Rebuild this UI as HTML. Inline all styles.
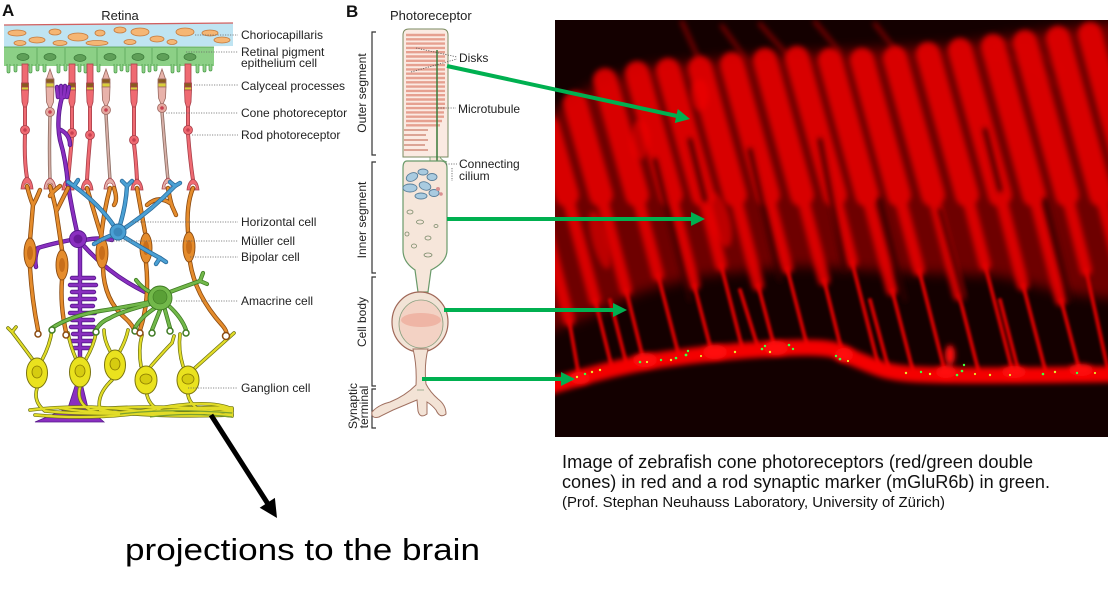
<!DOCTYPE html>
<html><head><meta charset="utf-8"><style>
html,body{margin:0;padding:0;background:#fff;}
svg{display:block;}
</style></head><body>
<svg width="1108" height="594" viewBox="0 0 1108 594" xmlns="http://www.w3.org/2000/svg" font-family="'Liberation Sans', Arial, sans-serif">
<defs>
  <clipPath id="pc"><rect x="555" y="20" width="553" height="417"/></clipPath>
  <filter id="b6" filterUnits="userSpaceOnUse" x="500" y="0" width="700" height="480"><feGaussianBlur stdDeviation="6"/></filter>
  <filter id="b3" filterUnits="userSpaceOnUse" x="500" y="0" width="700" height="480"><feGaussianBlur stdDeviation="2.6"/></filter>
  <filter id="b1" filterUnits="userSpaceOnUse" x="500" y="0" width="700" height="480"><feGaussianBlur stdDeviation="1.2"/></filter>

  <g id="orP">
    <path d="M27,186 Q30,198 33,205 L30,240"/>
    <path d="M40,190 Q36,200 33,205"/>
    <path d="M30,268 Q32,300 38,330"/>
    <path d="M50,186 Q54,200 56,210 L62,250"/>
    <path d="M68,188 Q62,200 57,210"/>
    <path d="M62,280 Q60,305 66,332"/>
    <path d="M87,188 Q92,205 98,225 L102,238"/>
    <path d="M110,188 Q104,210 101,238"/>
    <path d="M103,268 Q104,300 125,318 Q133,325 135,332"/>
    <path d="M137,188 Q140,205 145,232"/>
    <path d="M147,205 Q158,195 170,203"/>
    <path d="M168,188 Q170,200 172,206 L176,215"/>
    <path d="M146,263 Q150,300 140,330"/>
    <path d="M193,188 Q186,205 188,232"/>
    <path d="M190,262 Q195,295 222,325 Q228,332 226,336"/>
    <path d="M114,188 Q118,200 114,205"/>
    <path d="M60,186 Q52,192 50,196"/>
  </g>
  <g id="blP">
    <path d="M114,226 Q100,205 74,186"/>
    <path d="M74,186 L68,182 M74,186 L78,180"/>
    <path d="M120,225 Q126,205 127,186"/>
    <path d="M127,186 L122,181 M127,186 L132,181"/>
    <path d="M125,228 Q152,210 175,186"/>
    <path d="M175,186 L170,182 M175,186 L180,183"/>
    <path d="M124,237 Q145,250 160,258"/>
    <path d="M160,258 L156,264 M160,258 L166,262"/>
    <path d="M112,235 Q100,240 94,244"/>
  </g>
  <g id="puP">
    <path d="M57,87 L58,97 M61,86 L61,97 M65,86 L64,97 M69,87 L67,97"/>
    <path d="M62,97 Q56,120 60,140 Q66,160 68,185 Q72,210 77,232"/>
    <path d="M61,130 Q70,135 70,145"/>
    <path d="M71,240 Q50,244 38,248 Q34,258 36,267"/>
    <path d="M85,240 Q100,237 112,240"/>
    <path d="M84,246 Q110,275 145,292"/>
    <path d="M80,246 L80,385"/>
    <path d="M72,278 L94,278 M70,285 L96,285 M72,292 L94,292 M70,299 L95,299 M72,306 L93,306 M70,313 L95,313 M72,320 L93,320 M71,327 L94,327 M73,334 L92,334 M72,341 L92,341 M74,348 L90,348"/>
  </g>
  <g id="grP">
    <path d="M170,292 Q186,286 200,281"/>
    <path d="M200,281 L203,273 M200,281 L207,284"/>
    <path d="M150,292 Q142,288 136,280"/>
    <path d="M150,302 Q120,308 100,311 Q70,316 52,328"/>
    <path d="M150,304 Q120,312 110,318 Q100,322 96,330"/>
    <path d="M155,308 Q140,318 135,328"/>
    <path d="M160,310 L152,330"/>
    <path d="M165,310 L170,328"/>
    <path d="M169,306 Q182,318 186,330"/>
  </g>
  <g id="yeP">
    <path d="M33,360 Q22,345 12,332 M12,332 L8,328 M12,332 L16,327"/>
    <path d="M42,360 Q50,345 52,330"/>
    <path d="M76,359 Q70,345 68,333"/>
    <path d="M86,359 Q94,345 96,333"/>
    <path d="M110,351 Q104,340 104,330"/>
    <path d="M120,351 Q126,340 128,330"/>
    <path d="M141,366 Q138,350 142,335"/>
    <path d="M151,366 Q165,350 172,343 L174,336"/>
    <path d="M183,366 Q178,350 180,334"/>
    <path d="M195,368 Q215,350 234,333"/>
    <path d="M37,388 Q33,402 45,411 Q90,416 232,412"/>
    <path d="M80,387 Q76,402 90,410 Q140,404 232,410"/>
    <path d="M112,380 Q96,395 100,410 Q150,418 232,415"/>
    <path d="M147,395 Q150,408 165,412 Q200,406 232,408"/>
    <path d="M188,395 Q190,406 205,413 L232,416"/>
    <path d="M30,410 Q80,404 130,410 T232,411"/>
    <path d="M35,415 Q90,420 140,413 T232,414"/>
    <path d="M60,408 Q110,417 160,408 T232,409"/>
  </g>
</defs>

<!-- ================= PANEL A ================= -->
<text x="2" y="16" font-size="17" font-weight="bold" fill="#111">A</text>
<text x="120" y="20" font-size="13" text-anchor="middle" fill="#222">Retina</text>
<polygon points="4,25.5 233,23.5 233,46 4,48" fill="#bfe4f2"/>
<line x1="4" y1="25" x2="233" y2="23" stroke="#d06060" stroke-width="1.3"/>
<g fill="#f5b674" stroke="#c57a3c" stroke-width="0.8">
  <ellipse cx="17" cy="33" rx="9" ry="3"/><ellipse cx="37" cy="40" rx="8" ry="3"/>
  <ellipse cx="55" cy="32" rx="6" ry="3"/><ellipse cx="78" cy="37" rx="10" ry="4"/>
  <ellipse cx="100" cy="33" rx="5" ry="3"/><ellipse cx="120" cy="30" rx="6" ry="3"/>
  <ellipse cx="140" cy="32" rx="9" ry="4"/><ellipse cx="157" cy="39" rx="7" ry="3"/>
  <ellipse cx="185" cy="32" rx="9" ry="4"/><ellipse cx="210" cy="33" rx="8" ry="3"/>
  <ellipse cx="222" cy="40" rx="8" ry="3"/><ellipse cx="97" cy="43" rx="11" ry="2.5"/>
  <ellipse cx="130" cy="42" rx="6" ry="2.5"/><ellipse cx="60" cy="43" rx="7" ry="2.5"/>
  <ellipse cx="172" cy="42" rx="5" ry="2.5"/><ellipse cx="20" cy="43" rx="6" ry="2.5"/>
</g>
<rect x="4" y="47" width="210" height="19" fill="#8cd086"/>
<g fill="#8cd086" stroke="#4a9a48" stroke-width="0.7">
  <rect x="7" y="63" width="3" height="10" rx="1.5"/><rect x="14" y="63" width="3" height="9" rx="1.5"/>
  <rect x="29" y="63" width="3" height="10" rx="1.5"/><rect x="36" y="63" width="3" height="8" rx="1.5"/>
  <rect x="43" y="63" width="3" height="9" rx="1.5"/><rect x="57" y="63" width="3" height="10" rx="1.5"/>
  <rect x="64" y="63" width="3" height="8" rx="1.5"/><rect x="78" y="63" width="3" height="9" rx="1.5"/>
  <rect x="84" y="63" width="3" height="10" rx="1.5"/><rect x="97" y="63" width="3" height="9" rx="1.5"/>
  <rect x="114" y="63" width="3" height="10" rx="1.5"/><rect x="120" y="63" width="3" height="8" rx="1.5"/>
  <rect x="126" y="63" width="3" height="9" rx="1.5"/><rect x="142" y="63" width="3" height="10" rx="1.5"/>
  <rect x="148" y="63" width="3" height="9" rx="1.5"/><rect x="154" y="63" width="3" height="8" rx="1.5"/>
  <rect x="171" y="63" width="3" height="10" rx="1.5"/><rect x="177" y="63" width="3" height="9" rx="1.5"/>
  <rect x="196" y="63" width="3" height="10" rx="1.5"/><rect x="203" y="63" width="3" height="9" rx="1.5"/>
  <rect x="209" y="63" width="3" height="8" rx="1.5"/>
</g>
<rect x="4" y="47" width="210" height="17" fill="#8cd086"/>
<line x1="4" y1="47" x2="214" y2="47" stroke="#4a9a48" stroke-width="0.8"/>
<g stroke="#5aa55a" stroke-width="0.8">
  <line x1="37" y1="48" x2="37" y2="64"/><line x1="65" y1="48" x2="65" y2="64"/>
  <line x1="97" y1="48" x2="97" y2="64"/><line x1="125" y1="48" x2="125" y2="64"/>
  <line x1="152" y1="48" x2="152" y2="64"/><line x1="177" y1="48" x2="177" y2="64"/>
</g>
<g fill="#5f9f58" stroke="#3a7a38" stroke-width="0.7">
  <ellipse cx="23" cy="57" rx="6" ry="3.5"/><ellipse cx="50" cy="57" rx="6" ry="3.5"/>
  <ellipse cx="80" cy="58" rx="6" ry="3.5"/><ellipse cx="110" cy="57" rx="6" ry="3.5"/>
  <ellipse cx="138" cy="57" rx="6" ry="3.5"/><ellipse cx="163" cy="57" rx="6" ry="3.5"/>
  <ellipse cx="190" cy="57" rx="6" ry="3.5"/>
</g>

<g fill="none" stroke-linecap="round">
  <g stroke="#a8404a" stroke-width="4">
    <path d="M25,106 L25,127 M25,134 Q24,160 27,178"/>
    <path d="M72,106 L72,130 M72,137 Q70,160 68,180"/>
    <path d="M90,106 L90,131 M90,139 Q88,160 87,180"/>
    <path d="M134,106 L134,136 M134,144 Q136,160 137,180"/>
    <path d="M188,106 L188,126 M188,134 Q190,160 193,180"/>
  </g>
  <g stroke="#ef6a72" stroke-width="2.4">
    <path d="M25,106 L25,127 M25,134 Q24,160 27,178"/>
    <path d="M72,106 L72,130 M72,137 Q70,160 68,180"/>
    <path d="M90,106 L90,131 M90,139 Q88,160 87,180"/>
    <path d="M134,106 L134,136 M134,144 Q136,160 137,180"/>
    <path d="M188,106 L188,126 M188,134 Q190,160 193,180"/>
  </g>
  <g stroke="#8a6a60" stroke-width="3.4">
    <path d="M50,116 Q49,150 50,180"/>
    <path d="M106,114 Q108,150 110,180"/>
    <path d="M162,112 Q165,150 168,180"/>
  </g>
  <g stroke="#d8b0a8" stroke-width="1.8">
    <path d="M50,116 Q49,150 50,180"/>
    <path d="M106,114 Q108,150 110,180"/>
    <path d="M162,112 Q165,150 168,180"/>
  </g>
</g>
<g stroke="#a8404a" stroke-width="0.8">
  <rect x="22" y="64" width="6" height="19" fill="#ef6a72"/><rect x="21.5" y="83" width="7" height="4" fill="#8a5a20"/><rect x="21.5" y="87" width="7" height="3" fill="#d8cf3a"/><path d="M21.5,90 L28.5,90 L28,102 L26.5,107 L23.5,107 L22,102 Z" fill="#ef6a72"/>
  <rect x="69" y="64" width="6" height="19" fill="#ef6a72"/><rect x="68.5" y="83" width="7" height="4" fill="#8a5a20"/><rect x="68.5" y="87" width="7" height="3" fill="#d8cf3a"/><path d="M68.5,90 L75.5,90 L75,102 L73.5,107 L70.5,107 L69,102 Z" fill="#ef6a72"/>
  <rect x="87" y="64" width="6" height="19" fill="#ef6a72"/><rect x="86.5" y="83" width="7" height="4" fill="#8a5a20"/><rect x="86.5" y="87" width="7" height="3" fill="#d8cf3a"/><path d="M86.5,90 L93.5,90 L93,102 L91.5,107 L88.5,107 L87,102 Z" fill="#ef6a72"/>
  <rect x="131" y="64" width="6" height="19" fill="#ef6a72"/><rect x="130.5" y="83" width="7" height="4" fill="#8a5a20"/><rect x="130.5" y="87" width="7" height="3" fill="#d8cf3a"/><path d="M130.5,90 L137.5,90 L137,102 L135.5,107 L132.5,107 L131,102 Z" fill="#ef6a72"/>
  <rect x="185" y="64" width="6" height="19" fill="#ef6a72"/><rect x="184.5" y="83" width="7" height="4" fill="#8a5a20"/><rect x="184.5" y="87" width="7" height="3" fill="#d8cf3a"/><path d="M184.5,90 L191.5,90 L191,102 L189.5,107 L186.5,107 L185,102 Z" fill="#ef6a72"/>
</g>
<g stroke="#9a6a62" stroke-width="0.8">
  <path d="M50,69 L53.5,79 L46.5,79 Z" fill="#e8b2aa"/><rect x="46" y="79" width="8" height="4" fill="#8a5a20"/><rect x="46" y="83" width="8" height="4" fill="#d8cf3a"/><path d="M46,87 L54,87 L53.5,102 L51,108 L49,108 L46.5,102 Z" fill="#e8b2aa"/>
  <path d="M106,69 L109.5,79 L102.5,79 Z" fill="#e8b2aa"/><rect x="102" y="79" width="8" height="4" fill="#8a5a20"/><rect x="102" y="83" width="8" height="4" fill="#d8cf3a"/><path d="M102,87 L110,87 L109.5,100 L107,106 L105,106 L102.5,100 Z" fill="#e8b2aa"/>
  <path d="M162,69 L165.5,79 L158.5,79 Z" fill="#e8b2aa"/><rect x="158" y="79" width="8" height="4" fill="#8a5a20"/><rect x="158" y="83" width="8" height="4" fill="#d8cf3a"/><path d="M158,87 L166,87 L165.5,98 L163,104 L161,104 L158.5,98 Z" fill="#e8b2aa"/>
</g>
<g fill="#ef6a72" stroke="#a8404a" stroke-width="0.8">
  <circle cx="25" cy="130" r="4.5"/><circle cx="72" cy="133" r="4.5"/><circle cx="90" cy="135" r="4.5"/><circle cx="134" cy="140" r="4.5"/><circle cx="188" cy="130" r="4.5"/>
</g>
<g fill="#e4a8a0" stroke="#a06a62" stroke-width="0.8">
  <circle cx="50" cy="112" r="4.5"/><circle cx="106" cy="110" r="4.5"/><circle cx="162" cy="108" r="4.5"/>
</g>
<g fill="#c84050"><circle cx="25" cy="130" r="1.8"/><circle cx="72" cy="133" r="1.8"/><circle cx="90" cy="135" r="1.8"/><circle cx="134" cy="140" r="1.8"/><circle cx="188" cy="130" r="1.8"/><circle cx="50" cy="112" r="1.8"/><circle cx="106" cy="110" r="1.8"/><circle cx="162" cy="108" r="1.8"/></g>
<g stroke="#a8404a" stroke-width="0.8">
  <path d="M21,189 Q22,179 27,177 Q32,179 33,189 Z" fill="#ef6a72"/>
  <path d="M44,189 Q45,180 50,178 Q55,180 56,189 Z" fill="#e4b0a8"/>
  <path d="M62,190 Q63,181 68,179 Q73,181 74,190 Z" fill="#ef6a72"/>
  <path d="M81,190 Q82,181 87,179 Q92,181 93,190 Z" fill="#ef6a72"/>
  <path d="M104,189 Q105,180 110,178 Q115,180 116,189 Z" fill="#e4b0a8"/>
  <path d="M131,190 Q132,181 137,179 Q142,181 143,190 Z" fill="#ef6a72"/>
  <path d="M162,189 Q163,180 168,178 Q173,180 174,189 Z" fill="#e4b0a8"/>
  <path d="M187,190 Q188,181 193,179 Q198,181 199,190 Z" fill="#ef6a72"/>
</g>
<g fill="#fff" stroke="#a8404a" stroke-width="0.6">
  <circle cx="27" cy="186" r="3"/><circle cx="50" cy="186" r="3"/><circle cx="68" cy="187" r="3"/><circle cx="87" cy="187" r="3"/><circle cx="110" cy="186" r="3"/><circle cx="137" cy="187" r="3"/><circle cx="168" cy="186" r="3"/><circle cx="193" cy="187" r="3"/>
</g>

<polygon points="35,422 104,422 88,408 82,383 76,383 68,408" fill="#8a2fc0" stroke="#55188a" stroke-width="0.8"/>
<use href="#puP" fill="none" stroke="#55188a" stroke-width="4.4" stroke-linecap="round"/>
<use href="#puP" fill="none" stroke="#8a2fc0" stroke-width="2.8" stroke-linecap="round"/>
<circle cx="78" cy="239" r="8.5" fill="#8a2fc0" stroke="#55188a" stroke-width="0.9"/>
<circle cx="78" cy="239" r="4.5" fill="#6a1a9a"/>

<use href="#yeP" fill="none" stroke="#6a7010" stroke-width="3.6" stroke-linecap="round"/>
<use href="#yeP" fill="none" stroke="#e2dc28" stroke-width="2.2" stroke-linecap="round"/>
<g fill="none" stroke="#7aa030" stroke-width="1.2">
  <path d="M120,414 Q170,408 232,413"/><path d="M150,417 Q190,412 232,417"/>
</g>

<use href="#orP" fill="none" stroke="#8a4a10" stroke-width="4.4" stroke-linecap="round"/>
<use href="#orP" fill="none" stroke="#e58c2c" stroke-width="2.8" stroke-linecap="round"/>
<g fill="#e58c2c" stroke="#8a4a10" stroke-width="0.9">
  <ellipse cx="30" cy="253" rx="6" ry="15"/><ellipse cx="62" cy="265" rx="6" ry="15"/>
  <ellipse cx="102" cy="253" rx="6" ry="15"/><ellipse cx="146" cy="248" rx="6" ry="15"/>
  <ellipse cx="189" cy="247" rx="6" ry="15"/>
</g>
<g fill="#c86e1a"><ellipse cx="30" cy="253" rx="3" ry="7"/><ellipse cx="62" cy="265" rx="3" ry="7"/><ellipse cx="102" cy="253" rx="3" ry="7"/><ellipse cx="146" cy="248" rx="3" ry="7"/><ellipse cx="189" cy="247" rx="3" ry="7"/></g>

<use href="#blP" fill="none" stroke="#2a6a9a" stroke-width="4.4" stroke-linecap="round"/>
<use href="#blP" fill="none" stroke="#4aa0d4" stroke-width="2.8" stroke-linecap="round"/>
<circle cx="118" cy="232" r="8" fill="#4aa0d4" stroke="#2a6a9a" stroke-width="0.9"/>
<circle cx="118" cy="232" r="4.5" fill="#3a88bc"/>

<use href="#grP" fill="none" stroke="#3e7a22" stroke-width="4.2" stroke-linecap="round"/>
<use href="#grP" fill="none" stroke="#72b84a" stroke-width="2.6" stroke-linecap="round"/>
<circle cx="160" cy="298" r="12" fill="#72b84a" stroke="#3e7a22" stroke-width="0.9"/>
<circle cx="160" cy="297" r="7" fill="#5aa036" stroke="#3e7a22" stroke-width="0.6"/>
<g fill="#fff" stroke="#3e7a22" stroke-width="1.5">
  <circle cx="52" cy="330" r="3"/><circle cx="96" cy="332" r="3"/><circle cx="135" cy="331" r="3"/><circle cx="152" cy="333" r="3"/><circle cx="170" cy="331" r="3"/><circle cx="186" cy="333" r="3"/>
</g>
<g fill="#fff" stroke="#8a4a10" stroke-width="1.5">
  <circle cx="38" cy="334" r="3"/><circle cx="66" cy="335" r="3"/><circle cx="140" cy="333" r="3"/><circle cx="226" cy="336" r="3.5"/>
</g>

<g fill="#eae21e" stroke="#7a7410" stroke-width="1">
  <ellipse cx="37" cy="373" rx="10.5" ry="15"/><ellipse cx="80" cy="372" rx="10.5" ry="15"/>
  <ellipse cx="115" cy="365" rx="10.5" ry="15"/><ellipse cx="146" cy="380" rx="11" ry="14"/>
  <ellipse cx="188" cy="380" rx="11" ry="14"/>
</g>
<g fill="#d6cc10" stroke="#8a7a00" stroke-width="0.8">
  <ellipse cx="37" cy="372" rx="5" ry="6"/><ellipse cx="80" cy="371" rx="5" ry="6"/><ellipse cx="115" cy="364" rx="5" ry="6"/><ellipse cx="146" cy="379" rx="6" ry="5"/><ellipse cx="188" cy="379" rx="6" ry="5"/>
</g>

<g stroke="#666" stroke-width="0.8" stroke-dasharray="1.2,1.3" fill="none">
  <line x1="195" y1="35" x2="238" y2="35"/>
  <line x1="186" y1="52" x2="238" y2="52"/>
  <line x1="194" y1="85" x2="238" y2="85"/>
  <line x1="166" y1="113" x2="238" y2="113"/>
  <line x1="192" y1="135" x2="238" y2="135"/>
  <line x1="130" y1="222" x2="238" y2="222"/>
  <line x1="96" y1="241" x2="238" y2="241"/>
  <line x1="190" y1="257" x2="238" y2="257"/>
  <line x1="176" y1="301" x2="238" y2="301"/>
  <line x1="188" y1="388" x2="238" y2="388"/>
</g>
<g font-size="12" fill="#222">
  <text x="241" y="39">Choriocapillaris</text>
  <text x="241" y="56">Retinal pigment</text>
  <text x="241" y="67">epithelium cell</text>
  <text x="241" y="90">Calyceal processes</text>
  <text x="241" y="117">Cone photoreceptor</text>
  <text x="241" y="139">Rod photoreceptor</text>
  <text x="241" y="226">Horizontal cell</text>
  <text x="241" y="245">Müller cell</text>
  <text x="241" y="261">Bipolar cell</text>
  <text x="241" y="305">Amacrine cell</text>
  <text x="241" y="392">Ganglion cell</text>
</g>

<!-- ================= PANEL B ================= -->
<text x="346" y="17" font-size="17" font-weight="bold" fill="#111">B</text>
<text x="390" y="20" font-size="13" fill="#222">Photoreceptor</text>
<g stroke="#333" stroke-width="1.2" fill="none">
  <path d="M376,32 L372,32 L372,155 L376,155"/>
  <path d="M376,162 L372,162 L372,273 L376,273"/>
  <path d="M376,277 L372,277 L372,386 L376,386"/>
  <path d="M376,389 L372,389 L372,428 L376,428"/>
</g>
<g font-size="12" fill="#222" text-anchor="middle">
  <text transform="translate(366,93) rotate(-90)">Outer segment</text>
  <text transform="translate(366,220) rotate(-90)">Inner segment</text>
  <text transform="translate(366,322) rotate(-90)">Cell body</text>
  <text transform="translate(357,406) rotate(-90)">Synaptic</text>
  <text transform="translate(368,407) rotate(-90)">terminal</text>
</g>
<path d="M403,157 L403,35 Q403,29 409,29 L442,29 Q448,29 448,35 L448,157 Z" fill="#fbeae2" stroke="#7a8a60" stroke-width="1"/>
<g stroke="#e6a090" stroke-width="2.4">
  <line x1="406" y1="35" x2="445" y2="35"/><line x1="406" y1="39.3" x2="445" y2="39.3"/><line x1="406" y1="43.6" x2="445" y2="43.6"/><line x1="406" y1="47.9" x2="445" y2="47.9"/><line x1="406" y1="52.2" x2="445" y2="52.2"/><line x1="406" y1="56.5" x2="445" y2="56.5"/><line x1="406" y1="60.8" x2="445" y2="60.8"/><line x1="406" y1="65.1" x2="445" y2="65.1"/><line x1="406" y1="69.4" x2="445" y2="69.4"/><line x1="406" y1="73.7" x2="445" y2="73.7"/><line x1="406" y1="78" x2="445" y2="78"/><line x1="406" y1="82.3" x2="445" y2="82.3"/><line x1="406" y1="86.6" x2="445" y2="86.6"/><line x1="406" y1="90.9" x2="445" y2="90.9"/><line x1="406" y1="95.2" x2="445" y2="95.2"/><line x1="406" y1="99.5" x2="445" y2="99.5"/><line x1="406" y1="103.8" x2="445" y2="103.8"/><line x1="406" y1="108.1" x2="445" y2="108.1"/><line x1="406" y1="112.4" x2="444" y2="112.4"/><line x1="406" y1="116.7" x2="444" y2="116.7"/><line x1="406" y1="121" x2="442" y2="121"/><line x1="406" y1="125.3" x2="440" y2="125.3"/>
</g>
<g stroke="#d89a8a" stroke-width="1.8">
  <line x1="404" y1="130" x2="428" y2="130"/><line x1="404" y1="135" x2="426" y2="135"/><line x1="404" y1="140" x2="428" y2="140"/><line x1="404" y1="145" x2="425" y2="145"/><line x1="404" y1="150" x2="428" y2="150"/>
</g>
<path d="M430,157 L440,157 Q441,160 447,162 L430,162 Z" fill="#f6e6da" stroke="#6a9a6a" stroke-width="0.8"/>
<line x1="437" y1="50" x2="437" y2="188" stroke="#3a7a3a" stroke-width="1.5"/>
<path d="M407,161 Q403,161 403,168 L403,250 Q403,262 415,270 L418,292 L428,292 L431,270 Q447,262 447,250 L447,168 Q447,161 441,161 Z" fill="#f6e6da" stroke="#6a9a6a" stroke-width="1.2"/>
<g fill="#a9cbe0" stroke="#5a7f9a" stroke-width="0.9">
  <ellipse cx="412" cy="177" rx="6" ry="4" transform="rotate(-25 412 177)"/>
  <ellipse cx="423" cy="172" rx="5" ry="3"/>
  <ellipse cx="410" cy="188" rx="7" ry="4"/>
  <ellipse cx="425" cy="186" rx="6" ry="4" transform="rotate(20 425 186)"/>
  <ellipse cx="432" cy="177" rx="5" ry="3.5"/>
  <ellipse cx="421" cy="196" rx="6" ry="3"/>
  <ellipse cx="434" cy="193" rx="5" ry="3.5"/>
</g>
<g fill="#d89090"><circle cx="438" cy="189" r="2"/><circle cx="441" cy="194" r="1.8"/></g>
<g fill="none" stroke="#7a8a6a" stroke-width="0.8">
  <ellipse cx="410" cy="212" rx="3" ry="2"/><ellipse cx="420" cy="222" rx="3.5" ry="2"/><ellipse cx="407" cy="234" rx="2" ry="2"/>
  <ellipse cx="428" cy="238" rx="3" ry="2"/><ellipse cx="436" cy="226" rx="2" ry="1.5"/><ellipse cx="414" cy="246" rx="2.5" ry="2"/><ellipse cx="428" cy="255" rx="4" ry="2"/>
</g>
<ellipse cx="420" cy="322" rx="28" ry="30" fill="#f2e3d6" stroke="#a06858" stroke-width="1.2"/>
<ellipse cx="421" cy="324" rx="22" ry="24" fill="#f3d2c4" stroke="#8aa080" stroke-width="0.8"/>
<ellipse cx="421" cy="320" rx="20" ry="7" fill="#eca898" opacity="0.7"/>
<path d="M413,349 Q417,365 416,385 Q405,396 390,402 Q378,405 372,412 Q371,419 379,417 Q392,410 405,405 Q412,402 417,400 L418,411 Q420,419 427,414 L427,402 Q432,405 436,410 Q440,419 446,414 Q446,405 438,399 Q430,392 426,384 Q424,365 428,349 Z" fill="#f3e3d6" stroke="#a07060" stroke-width="1"/>
<path d="M417,390 L424,390" stroke="#8aa080" stroke-width="0.8"/>
<g stroke="#555" stroke-width="0.8" stroke-dasharray="1.2,1.3" fill="none">
  <line x1="416" y1="48" x2="457" y2="57"/>
  <line x1="411" y1="72" x2="457" y2="59"/>
  <line x1="438" y1="108" x2="456" y2="108"/>
  <line x1="446" y1="164" x2="457" y2="164"/>
  <line x1="452" y1="168" x2="452" y2="181"/>
</g>
<g font-size="12" fill="#222">
  <text x="459" y="62">Disks</text>
  <text x="458" y="113">Microtubule</text>
  <text x="459" y="168">Connecting</text>
  <text x="459" y="180">cilium</text>
</g>

<!-- ================= PHOTO ================= -->
<g clip-path="url(#pc)">
  <rect x="555" y="20" width="553" height="417" fill="#140000"/>
  <polygon points="540,120 600,82 650,66 750,56 850,50 950,45 1050,30 1120,20 1120,300 1060,292 1000,276 900,272 800,266 700,276 640,292 600,312 540,335" fill="#6e0000" filter="url(#b6)"/>
  <g stroke="#7a0000" stroke-width="4" stroke-linecap="round" fill="none" filter="url(#b3)">
    <path d="M682,22 L700,62"/><path d="M722,26 L748,62"/><path d="M760,24 L790,58"/><path d="M815,22 L840,52"/><path d="M875,24 L900,56"/><path d="M990,45 Q1030,40 1060,70"/><path d="M985,55 Q1030,55 1055,85"/>
  </g>
  <g stroke="#d00000" stroke-width="4" stroke-linecap="round" fill="none" filter="url(#b1)">
    <path d="M569,320 L580,382"/><path d="M595,300 L613,372"/><path d="M626,290 L645,366"/><path d="M658,275 L680,360"/><path d="M694,285 L713,357"/><path d="M721,265 L744,355"/><path d="M758,285 L776,353"/><path d="M787,268 L809,353"/><path d="M824,280 L844,360"/><path d="M852,262 L880,372"/><path d="M892,290 L914,375"/><path d="M919,270 L946,376"/><path d="M959,295 L980,377"/><path d="M985,265 L1014,377"/><path d="M1023,285 L1047,377"/><path d="M1061,300 L1081,376"/><path d="M1086,270 L1108,370"/>
    <path d="M610,300 L628,370"/><path d="M740,290 L760,354"/><path d="M870,300 L890,374"/><path d="M1000,300 L1020,377"/>
  </g>
  <g stroke="#e20000" stroke-linecap="round" fill="none" filter="url(#b3)" opacity="0.92">
    <g stroke-width="24">
      <path d="M525,158 L537,195"/><path d="M548,128 L567,195"/><path d="M575,103 L601,195"/><path d="M605,80 L637,195"/><path d="M637,73 L671,195"/><path d="M668,70 L703,195"/><path d="M700,68 L735,195"/><path d="M732,64 L768,195"/><path d="M765,60 L802,195"/><path d="M797,58 L835,195"/><path d="M830,60 L867,195"/><path d="M862,60 L899,195"/><path d="M895,58 L933,195"/><path d="M928,54 L967,195"/><path d="M960,50 L1000,195"/><path d="M993,46 L1034,195"/><path d="M1025,42 L1067,195"/><path d="M1058,38 L1101,195"/><path d="M1090,34 L1133,195"/>
    </g>
    <g stroke-width="12">
      <path d="M537,195 L569,320"/><path d="M567,195 L595,300"/><path d="M601,195 L626,290"/><path d="M637,195 L658,275"/><path d="M671,195 L694,285"/><path d="M703,195 L721,265"/><path d="M735,195 L758,285"/><path d="M768,195 L787,268"/><path d="M802,195 L824,280"/><path d="M835,195 L852,262"/><path d="M867,195 L892,290"/><path d="M899,195 L919,270"/><path d="M933,195 L959,295"/><path d="M967,195 L985,265"/><path d="M1000,195 L1023,285"/><path d="M1034,195 L1061,300"/><path d="M1067,195 L1086,270"/><path d="M1101,195 L1125,290"/>
    </g>
  </g>
  <g fill="#f00000" filter="url(#b3)" opacity="0.6">
    <ellipse cx="700" cy="95" rx="9" ry="16"/><ellipse cx="720" cy="220" rx="10" ry="28" transform="rotate(-15 720 220)"/>
    <ellipse cx="640" cy="140" rx="10" ry="20"/><ellipse cx="600" cy="240" rx="8" ry="30" transform="rotate(-15 600 240)"/>
  </g>
  <g stroke="#300000" stroke-width="4" stroke-linecap="round" fill="none" filter="url(#b3)">
    <path d="M655,160 L690,300"/><path d="M750,150 L780,280"/><path d="M820,140 L845,270"/><path d="M880,200 L905,300"/><path d="M940,210 L965,300"/><path d="M1045,200 L1070,300"/><path d="M690,140 L705,200"/><path d="M985,130 L1000,190"/>
  </g>
  <path d="M540,392 C580,380 620,368 660,362 S740,352 790,350 S840,354 860,362 S885,374 910,376 S1000,378 1120,376 L1120,437 L540,437 Z" fill="#130000"/>
  <path d="M545,388 C585,376 620,366 660,360 S740,350 790,348 S838,352 858,360 S885,372 910,374 S1000,376 1120,374" stroke="#f40000" stroke-width="16" fill="none" filter="url(#b3)"/>
  <g fill="#ff1010" filter="url(#b3)">
    <ellipse cx="580" cy="378" rx="10" ry="6"/><ellipse cx="645" cy="360" rx="12" ry="7"/><ellipse cx="715" cy="352" rx="12" ry="7"/><ellipse cx="776" cy="348" rx="12" ry="7"/><ellipse cx="844" cy="355" rx="9" ry="7"/><ellipse cx="946" cy="372" rx="10" ry="6"/><ellipse cx="1014" cy="372" rx="12" ry="6"/><ellipse cx="1081" cy="370" rx="12" ry="6"/><ellipse cx="950" cy="355" rx="5" ry="10"/>
  </g>
  <g fill="#40ff40">
    <circle cx="572" cy="379" r="1.3"/><circle cx="585" cy="374" r="1.2"/><circle cx="640" cy="362" r="1.3"/><circle cx="661" cy="360" r="1.2"/><circle cx="676" cy="358" r="1.3"/><circle cx="686" cy="355" r="1.4"/><circle cx="688" cy="351" r="1.2"/><circle cx="762" cy="349" r="1.3"/><circle cx="765" cy="346" r="1.2"/><circle cx="789" cy="345" r="1.3"/><circle cx="793" cy="349" r="1.2"/><circle cx="836" cy="356" r="1.2"/><circle cx="840" cy="359" r="1.3"/><circle cx="921" cy="372" r="1.2"/><circle cx="957" cy="375" r="1.3"/><circle cx="962" cy="371" r="1.3"/><circle cx="964" cy="365" r="1.2"/><circle cx="1043" cy="374" r="1.3"/><circle cx="1077" cy="373" r="1.2"/>
  </g>
  <g fill="#e8e830">
    <circle cx="577" cy="377" r="1.2"/><circle cx="592" cy="372" r="1.2"/><circle cx="600" cy="370" r="1.2"/><circle cx="647" cy="362" r="1.1"/><circle cx="671" cy="360" r="1.2"/><circle cx="701" cy="356" r="1.1"/><circle cx="735" cy="352" r="1.2"/><circle cx="770" cy="352" r="1.2"/><circle cx="848" cy="361" r="1.1"/><circle cx="906" cy="373" r="1.2"/><circle cx="930" cy="374" r="1.2"/><circle cx="975" cy="374" r="1.1"/><circle cx="990" cy="375" r="1.2"/><circle cx="1010" cy="375" r="1.1"/><circle cx="1055" cy="372" r="1.2"/><circle cx="1095" cy="373" r="1.1"/>
  </g>
</g>

<!-- ================= ARROWS ================= -->
<g stroke="#00b050" stroke-width="4" fill="none">
  <line x1="447" y1="66" x2="677" y2="116"/>
  <line x1="447" y1="219" x2="693" y2="219"/>
  <line x1="444" y1="310" x2="615" y2="310"/>
  <line x1="422" y1="379" x2="563" y2="379"/>
</g>
<g fill="#00b050">
  <polygon points="690,119 674.8,123 677.8,109"/>
  <polygon points="705,219 691,212 691,226"/>
  <polygon points="627,310 613,303 613,317"/>
  <polygon points="575,379 561,372 561,386"/>
</g>
<line x1="211" y1="415" x2="268" y2="504" stroke="#000" stroke-width="5"/>
<polygon points="277,518 259.7,507.7 274.9,497.9" fill="#000"/>

<!-- ================= TEXT ================= -->
<text x="125" y="560" font-size="31" fill="#000" textLength="355" lengthAdjust="spacingAndGlyphs">projections to the brain</text>
<g fill="#111">
  <text x="562" y="468" font-size="18" textLength="471" lengthAdjust="spacingAndGlyphs">Image of zebrafish cone photoreceptors (red/green double</text>
  <text x="562" y="488" font-size="18" textLength="488" lengthAdjust="spacingAndGlyphs">cones) in red and a rod synaptic marker (mGluR6b) in green.</text>
  <text x="562" y="507" font-size="15" textLength="383" lengthAdjust="spacingAndGlyphs">(Prof. Stephan Neuhauss Laboratory, University of Zürich)</text>
</g>
</svg>
</body></html>
